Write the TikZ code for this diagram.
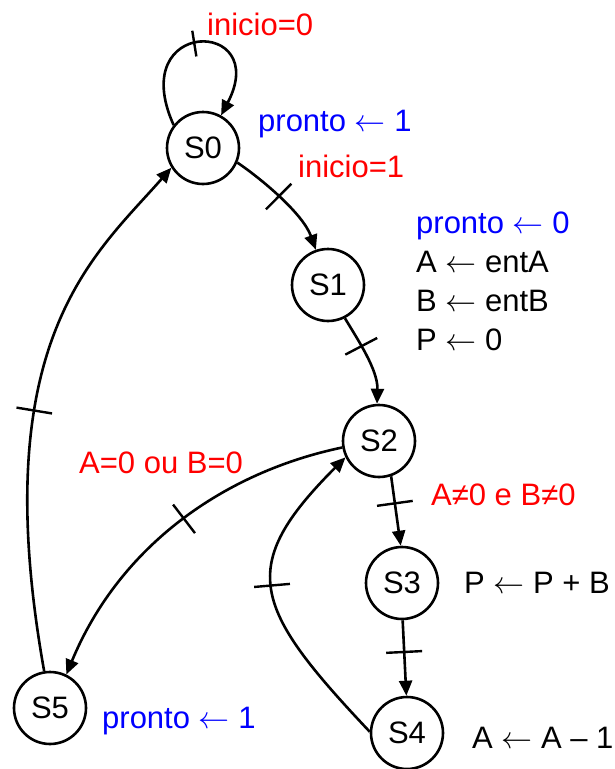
\RequirePackage{fix-cm}
\documentclass[tikz,border=0pt]{standalone}
\usepackage{fontspec}
\setmainfont{Liberation Sans}
\usetikzlibrary{arrows.meta,decorations.markings}
\newcommand\myfs{\fontsize{31}{37}\selectfont}
\newcommand\lar{\ensuremath{\leftarrow}}
\tikzset{
  st/.style={circle, draw, line width=2.6pt, minimum size=72pt, inner sep=0pt, font=\myfs},
  edge/.style={line width=2.6pt, -{Triangle[length=15pt,width=13pt]}},
  tk/.style={postaction={decorate, decoration={markings, mark=at position #1 with {\draw[line width=2.4pt, -] (0,-18pt) -- (0,18pt);}}}},
  tks/.style={postaction={decorate, decoration={markings, mark=at position #1 with {\draw[line width=2.4pt, -] (0,-13pt) -- (0,13pt);}}}},
  lab/.style={anchor=base west, inner sep=0pt, font=\myfs},
  cond/.style={lab, text=red},
  outb/.style={lab, text=blue},
}
\begin{document}
\begin{tikzpicture}[x=1pt, y=-1pt]
\useasboundingbox[fill=white] (0,0) rectangle (614,769);
\node[st] (S0) at (203,148) {S0};
\node[st] (S1) at (328,285) {S1};
\node[st] (S2) at (379,441) {S2};
\node[st] (S3) at (402,583) {S3};
\node[st] (S4) at (407,733) {S4};
\node[st] (S5) at (50,708) {S5};

\draw[edge, tks=0.5] (S0.142) .. controls (125,17) and (272,18) .. (S0.61);
\draw[edge, tk=0.45] (S0.-23) .. controls (263,180) and (303,214) .. (S1.109);
\draw[edge, tk=0.35] (S1.-63) .. controls (358,340) and (378,370) .. (S2.93);
\draw[edge, tk=0.39] (S2.-71) -- (S3.92);
\draw[edge, tk=0.42] (S3.-89) -- (S4.91);
\draw[edge, tk=0.54] (S4.178) .. controls (252,607) and (236,567) .. (S2.206);
\draw[edge, tk=0.47] (S2.190) .. controls (225,472) and (120,545) .. (S5.64);
\draw[edge, tk=0.48] (S5.99) .. controls (-15,340) and (95,255) .. (S0.212);

\node[cond] (c0) at (207,35) {inicio=0};
\node[outb] (o0) at (258,131) {pronto \lar\ 1};
\node[cond] (c1) at (298,177) {inicio=1};
\node[outb] (o1) at (416,233) {pronto \lar\ 0};
\node[lab] (o1a) at (416,272) {A \lar\ entA};
\node[lab] (o1b) at (416,311) {B \lar\ entB};
\node[lab] (o1c) at (416,350) {P \lar\ 0};
\node[cond] (c2) at (79,473) {A=0 ou B=0};
\node[cond] (c3) at (431,505) {A≠0 e B≠0};
\node[lab] (o3) at (464,593) {P \lar\ P + B};
\node[outb] (o5) at (102,728) {pronto \lar\ 1};
\node[lab] (o4) at (472,748) {A \lar\ A – 1};
\end{tikzpicture}
\end{document}
